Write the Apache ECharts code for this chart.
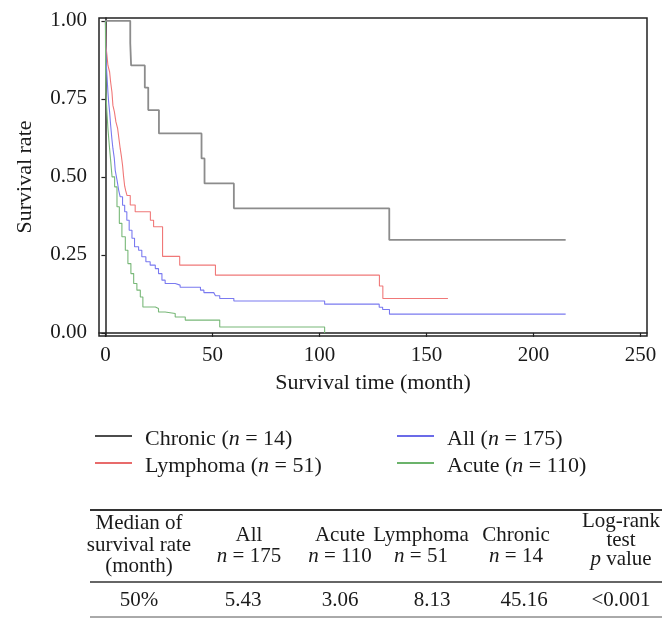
<!DOCTYPE html>
<html>
<head>
<meta charset="utf-8">
<script src="https://cdn.jsdelivr.net/npm/echarts@6/dist/echarts.min.js"></script>
<style>
html,body{margin:0;padding:0;background:#fff;}
#chart{width:672px;height:629px;}
</style>
</head>
<body>
<div id="chart"></div>
<script>
// ---- Data ----
var chronicTime = [0, 11.6, 12.0, 18.4, 20.0, 25.0, 44.9, 46.3, 60.0, 132.6, 215];
var chronicSurv = [1.0, 0.929, 0.857, 0.786, 0.714, 0.639, 0.559, 0.479, 0.399, 0.298, 0.298];

var lymphomaTime = [0, 0.23, 0.7, 1.17, 1.96, 2.43, 3.04, 3.5, 4.2, 4.9, 5.7, 6.3, 6.9, 7.4, 8.0, 8.5, 9.0, 9.5, 10.1, 11.6, 13.9, 21.0, 22.5, 26.7, 34.7, 51.4, 128.0, 129.6, 160];
var lymphomaSurv = [1.0, 0.92, 0.89, 0.857, 0.836, 0.804, 0.772, 0.729, 0.708, 0.676, 0.655, 0.623, 0.591, 0.569, 0.537, 0.50, 0.47, 0.455, 0.44, 0.41, 0.388, 0.361, 0.34, 0.245, 0.217, 0.185, 0.150, 0.110, 0.110];

var allTime = [0, 0.1, 0.23, 0.7, 1.17, 1.5, 1.96, 2.43, 3.0, 3.5, 4.15, 4.6, 5.4, 6.2, 6.9, 8.0, 9.0, 10.0, 11.1, 12.4, 13.6, 15.5, 17.0, 18.9, 20.9, 23.3, 24.8, 26.4, 27.9, 32.6, 34.9, 44.4, 46.0, 50.6, 51.4, 53.4, 60.0, 102.4, 127.9, 129.5, 132.7, 215];
var allSurv = [1.0, 0.933, 0.889, 0.826, 0.772, 0.74, 0.708, 0.666, 0.623, 0.591, 0.559, 0.52, 0.49, 0.457, 0.436, 0.409, 0.388, 0.361, 0.329, 0.303, 0.276, 0.265, 0.244, 0.228, 0.217, 0.206, 0.19, 0.169, 0.158, 0.153, 0.146, 0.137, 0.129, 0.126, 0.119, 0.110, 0.102, 0.092, 0.082, 0.075, 0.060, 0.060];

var acuteTime = [0, 0.05, 0.1, 0.23, 0.7, 1.17, 1.8, 2.5, 3.1, 4.3, 5.4, 6.5, 7.7, 9.3, 10.5, 11.9, 13.2, 14.7, 16.3, 17.5, 23.3, 24.8, 27.9, 32.6, 37.3, 53.4, 102.4];
var acuteSurv = [1.0, 0.912, 0.837, 0.772, 0.708, 0.655, 0.602, 0.548, 0.50, 0.468, 0.404, 0.351, 0.308, 0.265, 0.222, 0.19, 0.158, 0.137, 0.115, 0.083, 0.078, 0.067, 0.062, 0.051, 0.041, 0.019, 0.0];

var xTicks = [0, 50, 100, 150, 200, 250];
var yTicks = [0, 0.25, 0.5, 0.75, 1.0];

var legendLabels = ['Chronic ({i|n} = 14)', 'Lymphoma ({i|n} = 51)', 'All ({i|n} = 175)', 'Acute ({i|n} = 110)'];

var tableHeader = [
  ['Median of', 'survival rate', '(month)'],
  ['All', '{i|n} = 175'],
  ['Acute', '{i|n} = 110'],
  ['Lymphoma', '{i|n} = 51'],
  ['Chronic', '{i|n} = 14'],
  ['Log-rank', 'test', '{i|p} value']
];
var tableRow = ['50%', '5.43', '3.06', '8.13', '45.16', '<0.001'];

// ---- Styling ----
var FONT = '"Liberation Serif", "Times New Roman", serif';
var TXT = '#1a1a1a';

function zip(t, s) { return t.map(function (v, i) { return [v, s[i]]; }); }

var chart = echarts.init(document.getElementById('chart'), null, {renderer: 'canvas'});

var graphics = [];
// legend
var legendColors = ['#111111', '#e03a3a', '#3a3ae0', '#3a9a3a'];
var legendPos = [[95, 439], [95, 466], [397, 439], [397, 466]];
legendLabels.forEach(function (lab, i) {
  var p = legendPos[i];
  graphics.push({type: 'line', shape: {x1: p[0], y1: p[1] - 3, x2: p[0] + 37, y2: p[1] - 3},
    style: {stroke: legendColors[i], lineWidth: 1.3}});
  graphics.push({type: 'text', x: p[0] + 50, y: p[1], style: {
    text: lab, font: '22px ' + FONT, fill: TXT, verticalAlign: 'middle', align: 'left',
    rich: {i: {fontStyle: 'italic', fontSize: 22, fontFamily: FONT, fill: TXT}}
  }});
});

// table
var colX = [139, 249, 340, 421, 516, 621];
var dataX = [139, 243, 340, 432, 524, 621];
var headerY3 = [523, 545, 566];
var headerY2 = [535, 556];
var headerYLog = [521, 540, 559];
tableHeader.forEach(function (lines, c) {
  var ys = lines.length === 2 ? headerY2 : (c === 5 ? headerYLog : headerY3);
  lines.forEach(function (ln, k) {
    graphics.push({type: 'text', x: colX[c], y: ys[k], style: {
      text: ln, font: '21px ' + FONT, fill: TXT, align: 'center', verticalAlign: 'middle',
      rich: {i: {fontStyle: 'italic', fontSize: 21, fontFamily: FONT, fill: TXT}}
    }});
  });
});
tableRow.forEach(function (v, c) {
  graphics.push({type: 'text', x: dataX[c], y: 600, style: {
    text: v, font: '21px ' + FONT, fill: TXT, align: 'center', verticalAlign: 'middle'
  }});
});
graphics.push({type: 'line', shape: {x1: 90, y1: 510, x2: 662, y2: 510}, style: {stroke: '#333', lineWidth: 2}});
graphics.push({type: 'line', shape: {x1: 90, y1: 582, x2: 662, y2: 582}, style: {stroke: '#333', lineWidth: 1.5}});
graphics.push({type: 'line', shape: {x1: 90, y1: 617, x2: 662, y2: 617}, style: {stroke: '#555', lineWidth: 1}});

function km(name, t, s, color, w) {
  return {
    name: name, type: 'line', step: 'end', data: zip(t, s), showSymbol: false, symbol: 'none',
    lineStyle: {color: color, width: w}, animation: false, silent: true
  };
}

chart.setOption({
  backgroundColor: '#ffffff',
  animation: false,
  grid: {left: 99, top: 18, right: 25, bottom: 293, show: true, borderColor: '#222', borderWidth: 1.5, backgroundColor: 'transparent'},
  xAxis: {
    type: 'value', min: -3, max: 253,
    name: 'Survival time (month)', nameLocation: 'middle', nameGap: 36,
    nameTextStyle: {fontFamily: FONT, fontSize: 22, color: TXT},
    axisLine: {show: true, lineStyle: {color: '#222', width: 1.5}},
    axisTick: {show: true, length: 4, lineStyle: {color: '#222', width: 1.2}, customValues: xTicks},
    axisLabel: {fontFamily: FONT, fontSize: 21, color: TXT, margin: 9, customValues: xTicks},
    splitLine: {show: false}
  },
  yAxis: {
    type: 'value', min: -0.01, max: 1.009,
    name: 'Survival rate', nameLocation: 'middle', nameGap: 63, nameRotate: 90,
    nameTextStyle: {fontFamily: FONT, fontSize: 22, color: TXT},
    axisLine: {show: true, lineStyle: {color: '#222', width: 1.5}},
    axisTick: {show: true, length: 4, lineStyle: {color: '#222', width: 1.2}, customValues: yTicks},
    axisLabel: {fontFamily: FONT, fontSize: 21, color: TXT, margin: 12, customValues: yTicks,
      formatter: function (v) { return v.toFixed(2); }},
    splitLine: {show: false}
  },
  series: [
    km('Chronic', chronicTime, chronicSurv, '#8c8c8c', 1.8),
    km('Lymphoma', lymphomaTime, lymphomaSurv, '#f07878', 1.1),
    km('All', allTime, allSurv, '#7a7af0', 1.1),
    km('Acute', acuteTime, acuteSurv, '#78b878', 1.1)
  ],
  graphic: graphics
});
</script>
</body>
</html>
